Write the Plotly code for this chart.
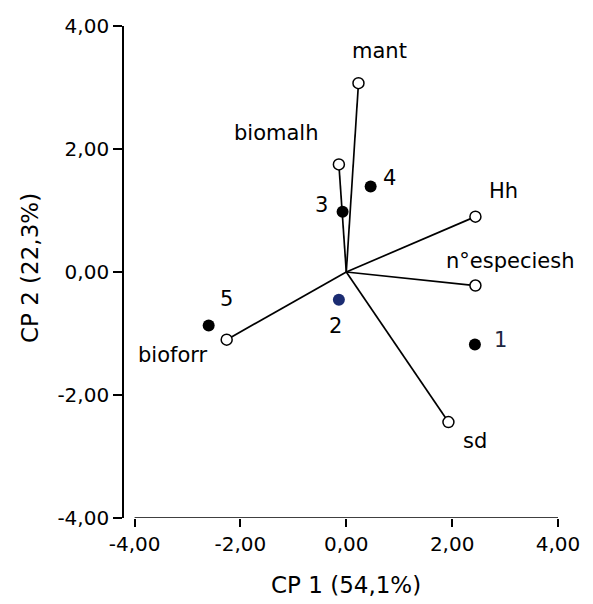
import plotly.graph_objects as go

# Variable loadings (vector endpoints)
var_names = ["mant", "biomalh", "Hh", "n°especiesh", "sd", "bioforr"]
var_x = [0.23, -0.14, 2.44, 2.44, 1.93, -2.26]
var_y = [3.07, 1.75, 0.90, -0.22, -2.44, -1.10]

# Sample scores
sample_names = ["1", "2", "3", "4", "5"]
sample_x = [2.43, -0.14, -0.07, 0.46, -2.60]
sample_y = [-1.18, -0.45, 0.98, 1.39, -0.87]
sample_colors = ["#000000", "#1b2c72", "#000000", "#000000", "#000000"]

tick_vals = [-4, -2, 0, 2, 4]
tick_text = ["-4,00", "-2,00", "0,00", "2,00", "4,00"]

x_title = "CP 1 (54,1%)"
y_title = "CP 2 (22,3%)"

FONT = "DejaVu Sans"

# label offsets in pixels (dx right, dy up)
var_offsets = [(21, 32), (-63, 31), (28, 26), (35, 25), (27, -19), (-54, -15)]
sample_offsets = [(26, 5), (-3, -26), (-21, 7), (19, 9), (18, 27)]
sample_label_colors = ["#1c2640", "#000000", "#000000", "#000000", "#000000"]

fig = go.Figure()

# vectors from origin
lx, ly = [], []
for x, y in zip(var_x, var_y):
    lx += [0, x, None]
    ly += [0, y, None]
fig.add_trace(go.Scatter(x=lx, y=ly, mode="lines",
                         line=dict(color="black", width=1.7),
                         hoverinfo="skip", showlegend=False))

# open circles at vector ends
fig.add_trace(go.Scatter(x=var_x, y=var_y, mode="markers", text=var_names,
                         marker=dict(symbol="circle", size=11, color="white",
                                     line=dict(color="black", width=1.5)),
                         showlegend=False))

# filled sample points
fig.add_trace(go.Scatter(x=sample_x, y=sample_y, mode="markers", text=sample_names,
                         marker=dict(symbol="circle", size=12, color=sample_colors,
                                     line=dict(width=0)),
                         showlegend=False))

annotations = []
for name, x, y, (dx, dy) in zip(var_names, var_x, var_y, var_offsets):
    annotations.append(dict(x=x, y=y, xref="x", yref="y", text=name, showarrow=False,
                            xshift=dx, yshift=dy, xanchor="center", yanchor="middle",
                            font=dict(family=FONT, size=21, color="black")))
for name, x, y, (dx, dy), c in zip(sample_names, sample_x, sample_y, sample_offsets, sample_label_colors):
    annotations.append(dict(x=x, y=y, xref="x", yref="y", text=name, showarrow=False,
                            xshift=dx, yshift=dy, xanchor="center", yanchor="middle",
                            font=dict(family=FONT, size=21, color=c)))

# axis titles
annotations.append(dict(x=0.5115, y=-0.136, xref="paper", yref="paper", text=x_title,
                        showarrow=False, xanchor="center", yanchor="middle",
                        font=dict(family=FONT, size=23, color="black")))
annotations.append(dict(x=-0.2166, y=0.508, xref="paper", yref="paper", text=y_title,
                        showarrow=False, xanchor="center", yanchor="middle", textangle=-90,
                        font=dict(family=FONT, size=23, color="black")))

fig.update_layout(
    width=593, height=604,
    margin=dict(l=124, r=35, t=26, b=86),
    paper_bgcolor="white", plot_bgcolor="white",
    showlegend=False,
    annotations=annotations,
    shapes=[dict(type="line", xref="x", yref="y", x0=tick_vals[0], x1=tick_vals[-1],
                 y0=tick_vals[0], y1=tick_vals[0], line=dict(color="black", width=1.7))],
    xaxis=dict(range=[-4.2, 4.0], tickvals=tick_vals, ticktext=tick_text,
               showgrid=False, zeroline=False, showline=False,
               ticks="outside", ticklen=8, tickwidth=1.5, tickcolor="black",
               tickfont=dict(family=FONT, size=20, color="black")),
    yaxis=dict(range=[-4.0, 4.0], tickvals=tick_vals, ticktext=tick_text,
               showgrid=False, zeroline=False, showline=True, linecolor="black", linewidth=1.7,
               ticks="outside", ticklen=9, tickwidth=1.5, tickcolor="black",
               tickfont=dict(family=FONT, size=20, color="black")),
)

fig.write_html("out.html", config={"displayModeBar": False},
               post_script="document.body.style.margin='0px';document.body.style.overflow='hidden';")
